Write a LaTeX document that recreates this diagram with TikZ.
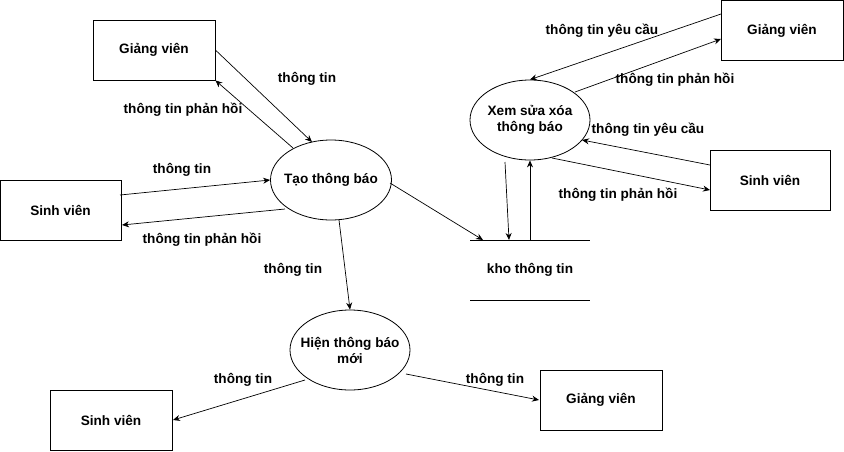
\documentclass[tikz,border=0pt]{standalone}
\usepackage{fontspec}
\setmainfont{Liberation Sans}
\usetikzlibrary{arrows.meta,shapes.geometric}
\begin{document}
\begin{tikzpicture}[x=1pt,y=-1pt,
  font=\fontsize{13.6}{16}\selectfont\bfseries,
  ent/.style={draw,line width=0.8pt,minimum width=122pt,minimum height=60pt,inner sep=0pt,align=center},
  proc/.style={draw,ellipse,line width=0.8pt,minimum width=120pt,minimum height=80pt,inner sep=0pt},
  ptext/.style={inner sep=0pt,align=center},
  flow/.style={line width=0.7pt,-{Stealth[length=7pt,width=6pt]}},
  lbl/.style={inner sep=0pt,anchor=center}]
\useasboundingbox (0,0) rectangle (844,451);
% entities
\node[ent] (gv1) at (154,50) {Giảng viên};
\node[ent,minimum width=121pt] (sv1) at (60.5,210) {Sinh viên};
\node[ent] (gv2) at (782,30.5) {Giảng viên};
\node[ent,minimum width=120pt] (sv2) at (770,180) {Sinh viên};
\node[ent] (sv3) at (111,420) {Sinh viên};
\node[ent] (gv3) at (601,400) {Giảng viên};
% processes
\node[proc,minimum width=121pt] (tao) at (331,180) {};
\node[ptext] (taot) at (tao.center) {Tạo thông báo};
\node[proc] (xem) at (530,120) {};
\node[ptext] (xemt) at (xem.center) {Xem sửa xóa\\thông báo};
\node[proc] (hien) at (350,350) {};
\node[ptext] (hient) at (hien.center) {Hiện thông báo\\mới};
% data store
\coordinate (k1) at (470,240);
\coordinate (k2) at (590,240);
\coordinate (k3) at (470,300);
\coordinate (k4) at (590,300);
\draw[line width=0.8pt] (k1) -- (k2);
\draw[line width=0.8pt] (k3) -- (k4);
\node[lbl] (kho) at (530,270) {kho thông tin};
\coordinate (kin) at (483,240);
\coordinate (kdown) at (509,240);
\coordinate (kup) at (530,240);
% flows: Tao
\draw[flow] (gv1.east) -- (312,142);
\draw[flow] (293,148) -- (gv1.south east);
\draw[flow] (120,195) -- (tao.west);
\draw[flow] (285,209) -- (122,225);
\draw[flow] (390,183) -- (kin);
\draw[flow] (339,220) -- (hien.north);
% flows: Xem
\draw[flow] (505,162) -- (kdown);
\draw[flow] (kup) -- (xem.south);
\draw[flow] (721,14) -- (xem.north);
\draw[flow] (575,92) -- (721,39);
\draw[flow] (710,165) -- (582,140);
\draw[flow] (552,158) -- (710,190);
% flows: Hien
\draw[flow] (305,380) -- (173,420);
\draw[flow] (406,374) -- (539,400);
% labels
\node[lbl] (l1) at (307,79) {thông tin};
\node[lbl] (l2) at (183,110) {thông tin phản hồi};
\node[lbl] (l3) at (182,170) {thông tin};
\node[lbl] (l4) at (202,240) {thông tin phản hồi};
\node[lbl] (l5) at (293,270) {thông tin};
\node[lbl] (l6) at (602,31) {thông tin yêu cầu};
\node[lbl] (l7) at (675,80) {thông tin phản hồi};
\node[lbl] (l8) at (648,130) {thông tin yêu cầu};
\node[lbl] (l9) at (618,195) {thông tin phản hồi};
\node[lbl] (l10) at (243,380) {thông tin};
\node[lbl] (l11) at (495,380) {thông tin};
\end{tikzpicture}
\end{document}
